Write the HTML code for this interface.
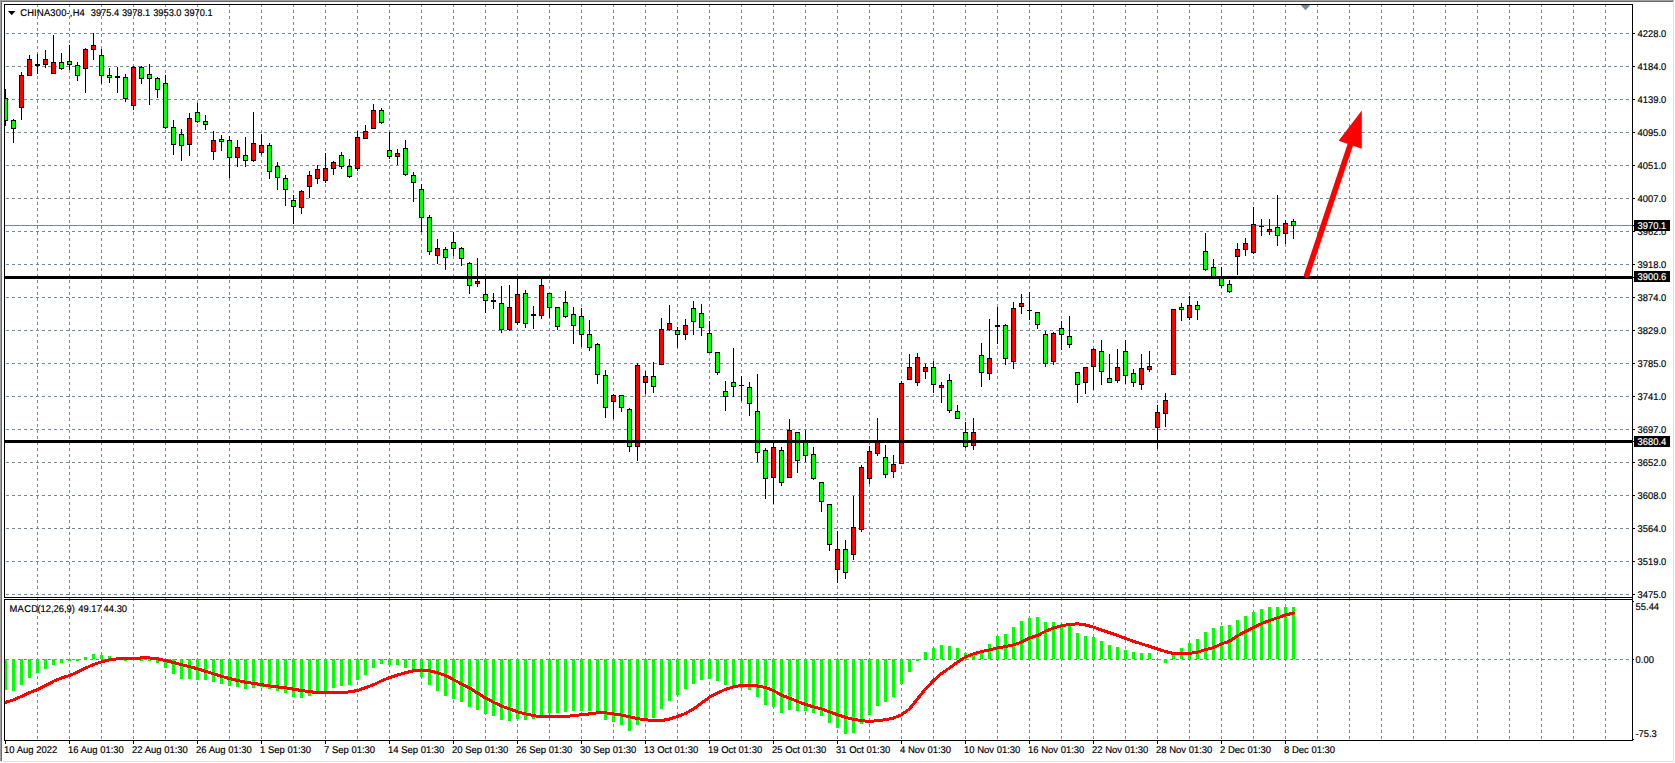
<!DOCTYPE html>
<html lang="en"><head><meta charset="utf-8"><title>CHINA300-,H4</title>
<style>html,body{margin:0;padding:0;background:#fff;overflow:hidden}svg{display:block}text{text-rendering:geometricPrecision;font-family:"Liberation Sans",Arial,sans-serif;font-size:9.8px;fill:#000;stroke:#000;stroke-width:0.18px}</style></head><body>
<svg width="1675" height="763" viewBox="0 0 1675 763">
<rect width="1675" height="763" fill="#fff"/>
<g shape-rendering="crispEdges">
<rect x="0" y="0" width="1674" height="1" fill="#a0a0a0"/>
<rect x="0" y="0" width="1" height="761" fill="#a0a0a0"/>
<rect x="1" y="1" width="1672" height="1" fill="#696969"/>
<rect x="1" y="1" width="1" height="760" fill="#696969"/>
<rect x="1673" y="1" width="1" height="761" fill="#e3e3e3"/>
<rect x="0" y="761" width="1674" height="1" fill="#e3e3e3"/>
<defs><clipPath id="cm"><rect x="5" y="5" width="1627" height="592"/></clipPath><clipPath id="cs"><rect x="5" y="600" width="1627" height="140"/></clipPath></defs>
<g clip-path="url(#cm)" stroke="#778899" stroke-width="1" stroke-dasharray="3 3" fill="none">
<line x1="37.5" y1="4" x2="37.5" y2="598"/>
<line x1="69.5" y1="4" x2="69.5" y2="598"/>
<line x1="101.5" y1="4" x2="101.5" y2="598"/>
<line x1="133.5" y1="4" x2="133.5" y2="598"/>
<line x1="165.5" y1="4" x2="165.5" y2="598"/>
<line x1="197.5" y1="4" x2="197.5" y2="598"/>
<line x1="229.5" y1="4" x2="229.5" y2="598"/>
<line x1="261.5" y1="4" x2="261.5" y2="598"/>
<line x1="293.5" y1="4" x2="293.5" y2="598"/>
<line x1="325.5" y1="4" x2="325.5" y2="598"/>
<line x1="357.5" y1="4" x2="357.5" y2="598"/>
<line x1="389.5" y1="4" x2="389.5" y2="598"/>
<line x1="421.5" y1="4" x2="421.5" y2="598"/>
<line x1="453.5" y1="4" x2="453.5" y2="598"/>
<line x1="485.5" y1="4" x2="485.5" y2="598"/>
<line x1="517.5" y1="4" x2="517.5" y2="598"/>
<line x1="549.5" y1="4" x2="549.5" y2="598"/>
<line x1="581.5" y1="4" x2="581.5" y2="598"/>
<line x1="613.5" y1="4" x2="613.5" y2="598"/>
<line x1="645.5" y1="4" x2="645.5" y2="598"/>
<line x1="677.5" y1="4" x2="677.5" y2="598"/>
<line x1="709.5" y1="4" x2="709.5" y2="598"/>
<line x1="741.5" y1="4" x2="741.5" y2="598"/>
<line x1="773.5" y1="4" x2="773.5" y2="598"/>
<line x1="805.5" y1="4" x2="805.5" y2="598"/>
<line x1="837.5" y1="4" x2="837.5" y2="598"/>
<line x1="869.5" y1="4" x2="869.5" y2="598"/>
<line x1="901.5" y1="4" x2="901.5" y2="598"/>
<line x1="933.5" y1="4" x2="933.5" y2="598"/>
<line x1="965.5" y1="4" x2="965.5" y2="598"/>
<line x1="997.5" y1="4" x2="997.5" y2="598"/>
<line x1="1029.5" y1="4" x2="1029.5" y2="598"/>
<line x1="1061.5" y1="4" x2="1061.5" y2="598"/>
<line x1="1093.5" y1="4" x2="1093.5" y2="598"/>
<line x1="1125.5" y1="4" x2="1125.5" y2="598"/>
<line x1="1157.5" y1="4" x2="1157.5" y2="598"/>
<line x1="1189.5" y1="4" x2="1189.5" y2="598"/>
<line x1="1221.5" y1="4" x2="1221.5" y2="598"/>
<line x1="1253.5" y1="4" x2="1253.5" y2="598"/>
<line x1="1285.5" y1="4" x2="1285.5" y2="598"/>
<line x1="1317.5" y1="4" x2="1317.5" y2="598"/>
<line x1="1349.5" y1="4" x2="1349.5" y2="598"/>
<line x1="1381.5" y1="4" x2="1381.5" y2="598"/>
<line x1="1413.5" y1="4" x2="1413.5" y2="598"/>
<line x1="1445.5" y1="4" x2="1445.5" y2="598"/>
<line x1="1477.5" y1="4" x2="1477.5" y2="598"/>
<line x1="1509.5" y1="4" x2="1509.5" y2="598"/>
<line x1="1541.5" y1="4" x2="1541.5" y2="598"/>
<line x1="1573.5" y1="4" x2="1573.5" y2="598"/>
<line x1="1605.5" y1="4" x2="1605.5" y2="598"/>
<line x1="0" y1="33.5" x2="1632" y2="33.5"/>
<line x1="0" y1="66.5" x2="1632" y2="66.5"/>
<line x1="0" y1="99.5" x2="1632" y2="99.5"/>
<line x1="0" y1="132.5" x2="1632" y2="132.5"/>
<line x1="0" y1="165.5" x2="1632" y2="165.5"/>
<line x1="0" y1="198.5" x2="1632" y2="198.5"/>
<line x1="0" y1="231.5" x2="1632" y2="231.5"/>
<line x1="0" y1="264.5" x2="1632" y2="264.5"/>
<line x1="0" y1="297.5" x2="1632" y2="297.5"/>
<line x1="0" y1="330.5" x2="1632" y2="330.5"/>
<line x1="0" y1="363.5" x2="1632" y2="363.5"/>
<line x1="0" y1="396.5" x2="1632" y2="396.5"/>
<line x1="0" y1="429.5" x2="1632" y2="429.5"/>
<line x1="0" y1="462.5" x2="1632" y2="462.5"/>
<line x1="0" y1="495.5" x2="1632" y2="495.5"/>
<line x1="0" y1="528.5" x2="1632" y2="528.5"/>
<line x1="0" y1="561.5" x2="1632" y2="561.5"/>
<line x1="0" y1="594.5" x2="1632" y2="594.5"/>
</g>
<g clip-path="url(#cm)">
<rect x="5" y="225" width="1627" height="1" fill="#778899"/>
<polygon points="1300.7,5 1310.3,5 1305.5,10.3" fill="#778899" shape-rendering="geometricPrecision"/>
<rect x="5" y="89" width="1" height="37" fill="#000"/>
<rect x="3" y="98" width="5" height="23" fill="#000"/>
<rect x="4" y="99" width="3" height="21" fill="#00ff00"/>
<rect x="13" y="119" width="1" height="24" fill="#000"/>
<rect x="11" y="120" width="5" height="9" fill="#000"/>
<rect x="12" y="121" width="3" height="7" fill="#00ff00"/>
<rect x="21" y="72" width="1" height="48" fill="#000"/>
<rect x="19" y="75" width="5" height="33" fill="#000"/>
<rect x="20" y="76" width="3" height="31" fill="#ff0000"/>
<rect x="29" y="55" width="1" height="21" fill="#000"/>
<rect x="27" y="59" width="5" height="17" fill="#000"/>
<rect x="28" y="60" width="3" height="15" fill="#ff0000"/>
<rect x="37" y="54" width="1" height="20" fill="#000"/>
<rect x="35" y="64" width="5" height="2" fill="#000"/>
<rect x="45" y="50" width="1" height="18" fill="#000"/>
<rect x="43" y="59" width="5" height="6" fill="#000"/>
<rect x="44" y="60" width="3" height="4" fill="#ff0000"/>
<rect x="53" y="35" width="1" height="39" fill="#000"/>
<rect x="51" y="62" width="5" height="12" fill="#000"/>
<rect x="52" y="63" width="3" height="10" fill="#ff0000"/>
<rect x="61" y="53" width="1" height="17" fill="#000"/>
<rect x="59" y="62" width="5" height="7" fill="#000"/>
<rect x="60" y="63" width="3" height="5" fill="#00ff00"/>
<rect x="69" y="45" width="1" height="25" fill="#000"/>
<rect x="67" y="61" width="5" height="4" fill="#000"/>
<rect x="68" y="62" width="3" height="2" fill="#00ff00"/>
<rect x="77" y="62" width="1" height="19" fill="#000"/>
<rect x="75" y="65" width="5" height="11" fill="#000"/>
<rect x="76" y="66" width="3" height="9" fill="#00ff00"/>
<rect x="85" y="48" width="1" height="45" fill="#000"/>
<rect x="83" y="49" width="5" height="20" fill="#000"/>
<rect x="84" y="50" width="3" height="18" fill="#ff0000"/>
<rect x="93" y="33" width="1" height="27" fill="#000"/>
<rect x="91" y="45" width="5" height="5" fill="#000"/>
<rect x="92" y="46" width="3" height="3" fill="#ff0000"/>
<rect x="101" y="49" width="1" height="35" fill="#000"/>
<rect x="99" y="55" width="5" height="21" fill="#000"/>
<rect x="100" y="56" width="3" height="19" fill="#00ff00"/>
<rect x="109" y="68" width="1" height="15" fill="#000"/>
<rect x="107" y="75" width="5" height="3" fill="#000"/>
<rect x="108" y="76" width="3" height="1" fill="#00ff00"/>
<rect x="117" y="67" width="1" height="26" fill="#000"/>
<rect x="115" y="76" width="5" height="2" fill="#000"/>
<rect x="125" y="74" width="1" height="28" fill="#000"/>
<rect x="123" y="77" width="5" height="22" fill="#000"/>
<rect x="124" y="78" width="3" height="20" fill="#00ff00"/>
<rect x="133" y="66" width="1" height="44" fill="#000"/>
<rect x="131" y="67" width="5" height="39" fill="#000"/>
<rect x="132" y="68" width="3" height="37" fill="#ff0000"/>
<rect x="141" y="66" width="1" height="18" fill="#000"/>
<rect x="139" y="67" width="5" height="12" fill="#000"/>
<rect x="140" y="68" width="3" height="10" fill="#00ff00"/>
<rect x="149" y="64" width="1" height="41" fill="#000"/>
<rect x="147" y="74" width="5" height="5" fill="#000"/>
<rect x="148" y="75" width="3" height="3" fill="#00ff00"/>
<rect x="157" y="77" width="1" height="21" fill="#000"/>
<rect x="155" y="78" width="5" height="12" fill="#000"/>
<rect x="156" y="79" width="3" height="10" fill="#00ff00"/>
<rect x="165" y="75" width="1" height="54" fill="#000"/>
<rect x="163" y="83" width="5" height="45" fill="#000"/>
<rect x="164" y="84" width="3" height="43" fill="#00ff00"/>
<rect x="173" y="120" width="1" height="35" fill="#000"/>
<rect x="171" y="127" width="5" height="18" fill="#000"/>
<rect x="172" y="128" width="3" height="16" fill="#00ff00"/>
<rect x="181" y="129" width="1" height="32" fill="#000"/>
<rect x="179" y="134" width="5" height="12" fill="#000"/>
<rect x="180" y="135" width="3" height="10" fill="#00ff00"/>
<rect x="189" y="113" width="1" height="43" fill="#000"/>
<rect x="187" y="118" width="5" height="27" fill="#000"/>
<rect x="188" y="119" width="3" height="25" fill="#ff0000"/>
<rect x="197" y="103" width="1" height="20" fill="#000"/>
<rect x="195" y="112" width="5" height="10" fill="#000"/>
<rect x="196" y="113" width="3" height="8" fill="#00ff00"/>
<rect x="205" y="115" width="1" height="15" fill="#000"/>
<rect x="203" y="121" width="5" height="4" fill="#000"/>
<rect x="204" y="122" width="3" height="2" fill="#00ff00"/>
<rect x="213" y="131" width="1" height="29" fill="#000"/>
<rect x="211" y="140" width="5" height="12" fill="#000"/>
<rect x="212" y="141" width="3" height="10" fill="#ff0000"/>
<rect x="221" y="135" width="1" height="16" fill="#000"/>
<rect x="219" y="139" width="5" height="3" fill="#000"/>
<rect x="220" y="140" width="3" height="1" fill="#00ff00"/>
<rect x="229" y="136" width="1" height="42" fill="#000"/>
<rect x="227" y="140" width="5" height="18" fill="#000"/>
<rect x="228" y="141" width="3" height="16" fill="#00ff00"/>
<rect x="237" y="140" width="1" height="27" fill="#000"/>
<rect x="235" y="147" width="5" height="11" fill="#000"/>
<rect x="236" y="148" width="3" height="9" fill="#ff0000"/>
<rect x="245" y="137" width="1" height="30" fill="#000"/>
<rect x="243" y="155" width="5" height="6" fill="#000"/>
<rect x="244" y="156" width="3" height="4" fill="#00ff00"/>
<rect x="253" y="112" width="1" height="50" fill="#000"/>
<rect x="251" y="143" width="5" height="18" fill="#000"/>
<rect x="252" y="144" width="3" height="16" fill="#ff0000"/>
<rect x="261" y="134" width="1" height="21" fill="#000"/>
<rect x="259" y="145" width="5" height="8" fill="#000"/>
<rect x="260" y="146" width="3" height="6" fill="#ff0000"/>
<rect x="269" y="143" width="1" height="36" fill="#000"/>
<rect x="267" y="145" width="5" height="27" fill="#000"/>
<rect x="268" y="146" width="3" height="25" fill="#00ff00"/>
<rect x="277" y="162" width="1" height="28" fill="#000"/>
<rect x="275" y="166" width="5" height="12" fill="#000"/>
<rect x="276" y="167" width="3" height="10" fill="#00ff00"/>
<rect x="285" y="175" width="1" height="31" fill="#000"/>
<rect x="283" y="178" width="5" height="12" fill="#000"/>
<rect x="284" y="179" width="3" height="10" fill="#00ff00"/>
<rect x="293" y="195" width="1" height="29" fill="#000"/>
<rect x="291" y="200" width="5" height="7" fill="#000"/>
<rect x="292" y="201" width="3" height="5" fill="#00ff00"/>
<rect x="301" y="190" width="1" height="24" fill="#000"/>
<rect x="299" y="191" width="5" height="17" fill="#000"/>
<rect x="300" y="192" width="3" height="15" fill="#ff0000"/>
<rect x="309" y="171" width="1" height="27" fill="#000"/>
<rect x="307" y="175" width="5" height="12" fill="#000"/>
<rect x="308" y="176" width="3" height="10" fill="#ff0000"/>
<rect x="317" y="165" width="1" height="19" fill="#000"/>
<rect x="315" y="169" width="5" height="10" fill="#000"/>
<rect x="316" y="170" width="3" height="8" fill="#ff0000"/>
<rect x="325" y="153" width="1" height="30" fill="#000"/>
<rect x="323" y="168" width="5" height="13" fill="#000"/>
<rect x="324" y="169" width="3" height="11" fill="#ff0000"/>
<rect x="333" y="161" width="1" height="14" fill="#000"/>
<rect x="331" y="162" width="5" height="7" fill="#000"/>
<rect x="332" y="163" width="3" height="5" fill="#ff0000"/>
<rect x="341" y="152" width="1" height="17" fill="#000"/>
<rect x="339" y="155" width="5" height="12" fill="#000"/>
<rect x="340" y="156" width="3" height="10" fill="#00ff00"/>
<rect x="349" y="159" width="1" height="19" fill="#000"/>
<rect x="347" y="166" width="5" height="11" fill="#000"/>
<rect x="348" y="167" width="3" height="9" fill="#00ff00"/>
<rect x="357" y="131" width="1" height="40" fill="#000"/>
<rect x="355" y="137" width="5" height="32" fill="#000"/>
<rect x="356" y="138" width="3" height="30" fill="#ff0000"/>
<rect x="365" y="125" width="1" height="14" fill="#000"/>
<rect x="363" y="131" width="5" height="8" fill="#000"/>
<rect x="364" y="132" width="3" height="6" fill="#ff0000"/>
<rect x="373" y="104" width="1" height="25" fill="#000"/>
<rect x="371" y="110" width="5" height="19" fill="#000"/>
<rect x="372" y="111" width="3" height="17" fill="#ff0000"/>
<rect x="381" y="108" width="1" height="16" fill="#000"/>
<rect x="379" y="110" width="5" height="13" fill="#000"/>
<rect x="380" y="111" width="3" height="11" fill="#00ff00"/>
<rect x="389" y="132" width="1" height="27" fill="#000"/>
<rect x="387" y="150" width="5" height="7" fill="#000"/>
<rect x="388" y="151" width="3" height="5" fill="#00ff00"/>
<rect x="397" y="149" width="1" height="16" fill="#000"/>
<rect x="395" y="153" width="5" height="4" fill="#000"/>
<rect x="396" y="154" width="3" height="2" fill="#ff0000"/>
<rect x="405" y="140" width="1" height="36" fill="#000"/>
<rect x="403" y="148" width="5" height="27" fill="#000"/>
<rect x="404" y="149" width="3" height="25" fill="#00ff00"/>
<rect x="413" y="172" width="1" height="30" fill="#000"/>
<rect x="411" y="175" width="5" height="8" fill="#000"/>
<rect x="412" y="176" width="3" height="6" fill="#00ff00"/>
<rect x="421" y="184" width="1" height="48" fill="#000"/>
<rect x="419" y="189" width="5" height="29" fill="#000"/>
<rect x="420" y="190" width="3" height="27" fill="#00ff00"/>
<rect x="429" y="215" width="1" height="40" fill="#000"/>
<rect x="427" y="217" width="5" height="35" fill="#000"/>
<rect x="428" y="218" width="3" height="33" fill="#00ff00"/>
<rect x="437" y="239" width="1" height="25" fill="#000"/>
<rect x="435" y="248" width="5" height="8" fill="#000"/>
<rect x="436" y="249" width="3" height="6" fill="#ff0000"/>
<rect x="445" y="247" width="1" height="23" fill="#000"/>
<rect x="443" y="249" width="5" height="9" fill="#000"/>
<rect x="444" y="250" width="3" height="7" fill="#00ff00"/>
<rect x="453" y="232" width="1" height="24" fill="#000"/>
<rect x="451" y="242" width="5" height="7" fill="#000"/>
<rect x="452" y="243" width="3" height="5" fill="#00ff00"/>
<rect x="461" y="247" width="1" height="19" fill="#000"/>
<rect x="459" y="248" width="5" height="11" fill="#000"/>
<rect x="460" y="249" width="3" height="9" fill="#00ff00"/>
<rect x="469" y="262" width="1" height="32" fill="#000"/>
<rect x="467" y="263" width="5" height="23" fill="#000"/>
<rect x="468" y="264" width="3" height="21" fill="#00ff00"/>
<rect x="477" y="258" width="1" height="29" fill="#000"/>
<rect x="475" y="281" width="5" height="3" fill="#000"/>
<rect x="476" y="282" width="3" height="1" fill="#ff0000"/>
<rect x="485" y="276" width="1" height="37" fill="#000"/>
<rect x="483" y="294" width="5" height="7" fill="#000"/>
<rect x="484" y="295" width="3" height="5" fill="#00ff00"/>
<rect x="493" y="293" width="1" height="16" fill="#000"/>
<rect x="491" y="300" width="5" height="2" fill="#000"/>
<rect x="501" y="286" width="1" height="47" fill="#000"/>
<rect x="499" y="303" width="5" height="27" fill="#000"/>
<rect x="500" y="304" width="3" height="25" fill="#00ff00"/>
<rect x="509" y="285" width="1" height="46" fill="#000"/>
<rect x="507" y="307" width="5" height="23" fill="#000"/>
<rect x="508" y="308" width="3" height="21" fill="#ff0000"/>
<rect x="517" y="276" width="1" height="49" fill="#000"/>
<rect x="515" y="294" width="5" height="29" fill="#000"/>
<rect x="516" y="295" width="3" height="27" fill="#ff0000"/>
<rect x="525" y="290" width="1" height="38" fill="#000"/>
<rect x="523" y="293" width="5" height="31" fill="#000"/>
<rect x="524" y="294" width="3" height="29" fill="#00ff00"/>
<rect x="533" y="306" width="1" height="23" fill="#000"/>
<rect x="531" y="314" width="5" height="2" fill="#000"/>
<rect x="541" y="276" width="1" height="43" fill="#000"/>
<rect x="539" y="285" width="5" height="31" fill="#000"/>
<rect x="540" y="286" width="3" height="29" fill="#ff0000"/>
<rect x="549" y="293" width="1" height="25" fill="#000"/>
<rect x="547" y="293" width="5" height="15" fill="#000"/>
<rect x="548" y="294" width="3" height="13" fill="#00ff00"/>
<rect x="557" y="307" width="1" height="23" fill="#000"/>
<rect x="555" y="307" width="5" height="20" fill="#000"/>
<rect x="556" y="308" width="3" height="18" fill="#00ff00"/>
<rect x="565" y="291" width="1" height="27" fill="#000"/>
<rect x="563" y="302" width="5" height="15" fill="#000"/>
<rect x="564" y="303" width="3" height="13" fill="#00ff00"/>
<rect x="573" y="307" width="1" height="37" fill="#000"/>
<rect x="571" y="314" width="5" height="12" fill="#000"/>
<rect x="572" y="315" width="3" height="10" fill="#00ff00"/>
<rect x="581" y="308" width="1" height="39" fill="#000"/>
<rect x="579" y="316" width="5" height="19" fill="#000"/>
<rect x="580" y="317" width="3" height="17" fill="#00ff00"/>
<rect x="589" y="320" width="1" height="31" fill="#000"/>
<rect x="587" y="334" width="5" height="14" fill="#000"/>
<rect x="588" y="335" width="3" height="12" fill="#00ff00"/>
<rect x="597" y="343" width="1" height="41" fill="#000"/>
<rect x="595" y="344" width="5" height="31" fill="#000"/>
<rect x="596" y="345" width="3" height="29" fill="#00ff00"/>
<rect x="605" y="370" width="1" height="48" fill="#000"/>
<rect x="603" y="375" width="5" height="33" fill="#000"/>
<rect x="604" y="376" width="3" height="31" fill="#00ff00"/>
<rect x="613" y="394" width="1" height="25" fill="#000"/>
<rect x="611" y="395" width="5" height="7" fill="#000"/>
<rect x="612" y="396" width="3" height="5" fill="#ff0000"/>
<rect x="621" y="395" width="1" height="17" fill="#000"/>
<rect x="619" y="395" width="5" height="13" fill="#000"/>
<rect x="620" y="396" width="3" height="11" fill="#00ff00"/>
<rect x="629" y="408" width="1" height="44" fill="#000"/>
<rect x="627" y="409" width="5" height="38" fill="#000"/>
<rect x="628" y="410" width="3" height="36" fill="#00ff00"/>
<rect x="637" y="363" width="1" height="98" fill="#000"/>
<rect x="635" y="365" width="5" height="82" fill="#000"/>
<rect x="636" y="366" width="3" height="80" fill="#ff0000"/>
<rect x="645" y="371" width="1" height="23" fill="#000"/>
<rect x="643" y="376" width="5" height="7" fill="#000"/>
<rect x="644" y="377" width="3" height="5" fill="#ff0000"/>
<rect x="653" y="362" width="1" height="31" fill="#000"/>
<rect x="651" y="376" width="5" height="11" fill="#000"/>
<rect x="652" y="377" width="3" height="9" fill="#00ff00"/>
<rect x="661" y="318" width="1" height="47" fill="#000"/>
<rect x="659" y="329" width="5" height="36" fill="#000"/>
<rect x="660" y="330" width="3" height="34" fill="#ff0000"/>
<rect x="669" y="305" width="1" height="26" fill="#000"/>
<rect x="667" y="323" width="5" height="7" fill="#000"/>
<rect x="668" y="324" width="3" height="5" fill="#ff0000"/>
<rect x="677" y="327" width="1" height="21" fill="#000"/>
<rect x="675" y="330" width="5" height="5" fill="#000"/>
<rect x="676" y="331" width="3" height="3" fill="#00ff00"/>
<rect x="685" y="319" width="1" height="21" fill="#000"/>
<rect x="683" y="325" width="5" height="10" fill="#000"/>
<rect x="684" y="326" width="3" height="8" fill="#ff0000"/>
<rect x="693" y="301" width="1" height="34" fill="#000"/>
<rect x="691" y="308" width="5" height="14" fill="#000"/>
<rect x="692" y="309" width="3" height="12" fill="#00ff00"/>
<rect x="701" y="304" width="1" height="32" fill="#000"/>
<rect x="699" y="313" width="5" height="15" fill="#000"/>
<rect x="700" y="314" width="3" height="13" fill="#00ff00"/>
<rect x="709" y="321" width="1" height="32" fill="#000"/>
<rect x="707" y="333" width="5" height="20" fill="#000"/>
<rect x="708" y="334" width="3" height="18" fill="#00ff00"/>
<rect x="717" y="352" width="1" height="23" fill="#000"/>
<rect x="715" y="352" width="5" height="21" fill="#000"/>
<rect x="716" y="353" width="3" height="19" fill="#00ff00"/>
<rect x="725" y="381" width="1" height="30" fill="#000"/>
<rect x="723" y="391" width="5" height="6" fill="#000"/>
<rect x="724" y="392" width="3" height="4" fill="#00ff00"/>
<rect x="733" y="348" width="1" height="49" fill="#000"/>
<rect x="731" y="382" width="5" height="5" fill="#000"/>
<rect x="732" y="383" width="3" height="3" fill="#00ff00"/>
<rect x="741" y="376" width="1" height="25" fill="#000"/>
<rect x="739" y="385" width="5" height="1" fill="#000"/>
<rect x="749" y="382" width="1" height="34" fill="#000"/>
<rect x="747" y="387" width="5" height="17" fill="#000"/>
<rect x="748" y="388" width="3" height="15" fill="#00ff00"/>
<rect x="757" y="374" width="1" height="88" fill="#000"/>
<rect x="755" y="411" width="5" height="42" fill="#000"/>
<rect x="756" y="412" width="3" height="40" fill="#00ff00"/>
<rect x="765" y="448" width="1" height="51" fill="#000"/>
<rect x="763" y="450" width="5" height="29" fill="#000"/>
<rect x="764" y="451" width="3" height="27" fill="#00ff00"/>
<rect x="773" y="443" width="1" height="61" fill="#000"/>
<rect x="771" y="447" width="5" height="31" fill="#000"/>
<rect x="772" y="448" width="3" height="29" fill="#ff0000"/>
<rect x="781" y="447" width="1" height="39" fill="#000"/>
<rect x="779" y="450" width="5" height="33" fill="#000"/>
<rect x="780" y="451" width="3" height="31" fill="#00ff00"/>
<rect x="789" y="419" width="1" height="59" fill="#000"/>
<rect x="787" y="430" width="5" height="48" fill="#000"/>
<rect x="788" y="431" width="3" height="46" fill="#ff0000"/>
<rect x="797" y="432" width="1" height="41" fill="#000"/>
<rect x="795" y="432" width="5" height="29" fill="#000"/>
<rect x="796" y="433" width="3" height="27" fill="#00ff00"/>
<rect x="805" y="430" width="1" height="32" fill="#000"/>
<rect x="803" y="441" width="5" height="15" fill="#000"/>
<rect x="804" y="442" width="3" height="13" fill="#00ff00"/>
<rect x="813" y="447" width="1" height="33" fill="#000"/>
<rect x="811" y="454" width="5" height="25" fill="#000"/>
<rect x="812" y="455" width="3" height="23" fill="#00ff00"/>
<rect x="821" y="482" width="1" height="30" fill="#000"/>
<rect x="819" y="482" width="5" height="20" fill="#000"/>
<rect x="820" y="483" width="3" height="18" fill="#00ff00"/>
<rect x="829" y="504" width="1" height="47" fill="#000"/>
<rect x="827" y="504" width="5" height="41" fill="#000"/>
<rect x="828" y="505" width="3" height="39" fill="#00ff00"/>
<rect x="837" y="531" width="1" height="52" fill="#000"/>
<rect x="835" y="549" width="5" height="21" fill="#000"/>
<rect x="836" y="550" width="3" height="19" fill="#ff0000"/>
<rect x="845" y="540" width="1" height="39" fill="#000"/>
<rect x="843" y="549" width="5" height="24" fill="#000"/>
<rect x="844" y="550" width="3" height="22" fill="#00ff00"/>
<rect x="853" y="496" width="1" height="64" fill="#000"/>
<rect x="851" y="527" width="5" height="28" fill="#000"/>
<rect x="852" y="528" width="3" height="26" fill="#ff0000"/>
<rect x="861" y="465" width="1" height="67" fill="#000"/>
<rect x="859" y="467" width="5" height="63" fill="#000"/>
<rect x="860" y="468" width="3" height="61" fill="#ff0000"/>
<rect x="869" y="446" width="1" height="38" fill="#000"/>
<rect x="867" y="451" width="5" height="28" fill="#000"/>
<rect x="868" y="452" width="3" height="26" fill="#ff0000"/>
<rect x="877" y="418" width="1" height="38" fill="#000"/>
<rect x="875" y="441" width="5" height="13" fill="#000"/>
<rect x="876" y="442" width="3" height="11" fill="#ff0000"/>
<rect x="885" y="445" width="1" height="33" fill="#000"/>
<rect x="883" y="457" width="5" height="18" fill="#000"/>
<rect x="884" y="458" width="3" height="16" fill="#00ff00"/>
<rect x="893" y="455" width="1" height="23" fill="#000"/>
<rect x="891" y="464" width="5" height="8" fill="#000"/>
<rect x="892" y="465" width="3" height="6" fill="#ff0000"/>
<rect x="901" y="381" width="1" height="83" fill="#000"/>
<rect x="899" y="383" width="5" height="81" fill="#000"/>
<rect x="900" y="384" width="3" height="79" fill="#ff0000"/>
<rect x="909" y="354" width="1" height="26" fill="#000"/>
<rect x="907" y="367" width="5" height="13" fill="#000"/>
<rect x="908" y="368" width="3" height="11" fill="#ff0000"/>
<rect x="917" y="353" width="1" height="33" fill="#000"/>
<rect x="915" y="357" width="5" height="26" fill="#000"/>
<rect x="916" y="358" width="3" height="24" fill="#ff0000"/>
<rect x="925" y="364" width="1" height="15" fill="#000"/>
<rect x="923" y="367" width="5" height="5" fill="#000"/>
<rect x="924" y="368" width="3" height="3" fill="#ff0000"/>
<rect x="933" y="361" width="1" height="32" fill="#000"/>
<rect x="931" y="367" width="5" height="18" fill="#000"/>
<rect x="932" y="368" width="3" height="16" fill="#00ff00"/>
<rect x="941" y="382" width="1" height="21" fill="#000"/>
<rect x="939" y="385" width="5" height="3" fill="#000"/>
<rect x="940" y="386" width="3" height="1" fill="#ff0000"/>
<rect x="949" y="374" width="1" height="39" fill="#000"/>
<rect x="947" y="380" width="5" height="31" fill="#000"/>
<rect x="948" y="381" width="3" height="29" fill="#00ff00"/>
<rect x="957" y="405" width="1" height="14" fill="#000"/>
<rect x="955" y="411" width="5" height="8" fill="#000"/>
<rect x="956" y="412" width="3" height="6" fill="#00ff00"/>
<rect x="965" y="422" width="1" height="26" fill="#000"/>
<rect x="963" y="432" width="5" height="15" fill="#000"/>
<rect x="964" y="433" width="3" height="13" fill="#00ff00"/>
<rect x="973" y="418" width="1" height="32" fill="#000"/>
<rect x="971" y="432" width="5" height="14" fill="#000"/>
<rect x="972" y="433" width="3" height="12" fill="#ff0000"/>
<rect x="981" y="343" width="1" height="44" fill="#000"/>
<rect x="979" y="355" width="5" height="18" fill="#000"/>
<rect x="980" y="356" width="3" height="16" fill="#00ff00"/>
<rect x="989" y="319" width="1" height="61" fill="#000"/>
<rect x="987" y="358" width="5" height="16" fill="#000"/>
<rect x="988" y="359" width="3" height="14" fill="#ff0000"/>
<rect x="997" y="307" width="1" height="37" fill="#000"/>
<rect x="995" y="325" width="5" height="2" fill="#000"/>
<rect x="1005" y="324" width="1" height="41" fill="#000"/>
<rect x="1003" y="325" width="5" height="34" fill="#000"/>
<rect x="1004" y="326" width="3" height="32" fill="#00ff00"/>
<rect x="1013" y="302" width="1" height="67" fill="#000"/>
<rect x="1011" y="308" width="5" height="54" fill="#000"/>
<rect x="1012" y="309" width="3" height="52" fill="#ff0000"/>
<rect x="1021" y="294" width="1" height="20" fill="#000"/>
<rect x="1019" y="303" width="5" height="4" fill="#000"/>
<rect x="1020" y="304" width="3" height="2" fill="#ff0000"/>
<rect x="1029" y="292" width="1" height="28" fill="#000"/>
<rect x="1027" y="310" width="5" height="1" fill="#000"/>
<rect x="1037" y="312" width="1" height="17" fill="#000"/>
<rect x="1035" y="312" width="5" height="13" fill="#000"/>
<rect x="1036" y="313" width="3" height="11" fill="#00ff00"/>
<rect x="1045" y="331" width="1" height="36" fill="#000"/>
<rect x="1043" y="334" width="5" height="30" fill="#000"/>
<rect x="1044" y="335" width="3" height="28" fill="#00ff00"/>
<rect x="1053" y="332" width="1" height="33" fill="#000"/>
<rect x="1051" y="333" width="5" height="29" fill="#000"/>
<rect x="1052" y="334" width="3" height="27" fill="#ff0000"/>
<rect x="1061" y="321" width="1" height="29" fill="#000"/>
<rect x="1059" y="328" width="5" height="7" fill="#000"/>
<rect x="1060" y="329" width="3" height="5" fill="#00ff00"/>
<rect x="1069" y="316" width="1" height="32" fill="#000"/>
<rect x="1067" y="336" width="5" height="9" fill="#000"/>
<rect x="1068" y="337" width="3" height="7" fill="#00ff00"/>
<rect x="1077" y="372" width="1" height="31" fill="#000"/>
<rect x="1075" y="372" width="5" height="13" fill="#000"/>
<rect x="1076" y="373" width="3" height="11" fill="#00ff00"/>
<rect x="1085" y="367" width="1" height="27" fill="#000"/>
<rect x="1083" y="367" width="5" height="16" fill="#000"/>
<rect x="1084" y="368" width="3" height="14" fill="#ff0000"/>
<rect x="1093" y="348" width="1" height="42" fill="#000"/>
<rect x="1091" y="349" width="5" height="18" fill="#000"/>
<rect x="1092" y="350" width="3" height="16" fill="#ff0000"/>
<rect x="1101" y="340" width="1" height="45" fill="#000"/>
<rect x="1099" y="351" width="5" height="21" fill="#000"/>
<rect x="1100" y="352" width="3" height="19" fill="#00ff00"/>
<rect x="1109" y="354" width="1" height="29" fill="#000"/>
<rect x="1107" y="378" width="5" height="5" fill="#000"/>
<rect x="1108" y="379" width="3" height="3" fill="#00ff00"/>
<rect x="1117" y="349" width="1" height="34" fill="#000"/>
<rect x="1115" y="367" width="5" height="14" fill="#000"/>
<rect x="1116" y="368" width="3" height="12" fill="#ff0000"/>
<rect x="1125" y="340" width="1" height="44" fill="#000"/>
<rect x="1123" y="351" width="5" height="25" fill="#000"/>
<rect x="1124" y="352" width="3" height="23" fill="#00ff00"/>
<rect x="1133" y="369" width="1" height="18" fill="#000"/>
<rect x="1131" y="373" width="5" height="10" fill="#000"/>
<rect x="1132" y="374" width="3" height="8" fill="#00ff00"/>
<rect x="1141" y="354" width="1" height="36" fill="#000"/>
<rect x="1139" y="368" width="5" height="17" fill="#000"/>
<rect x="1140" y="369" width="3" height="15" fill="#ff0000"/>
<rect x="1149" y="351" width="1" height="21" fill="#000"/>
<rect x="1147" y="366" width="5" height="4" fill="#000"/>
<rect x="1148" y="367" width="3" height="2" fill="#ff0000"/>
<rect x="1157" y="405" width="1" height="44" fill="#000"/>
<rect x="1155" y="412" width="5" height="16" fill="#000"/>
<rect x="1156" y="413" width="3" height="14" fill="#ff0000"/>
<rect x="1165" y="393" width="1" height="34" fill="#000"/>
<rect x="1163" y="400" width="5" height="14" fill="#000"/>
<rect x="1164" y="401" width="3" height="12" fill="#ff0000"/>
<rect x="1173" y="309" width="1" height="66" fill="#000"/>
<rect x="1171" y="309" width="5" height="66" fill="#000"/>
<rect x="1172" y="310" width="3" height="64" fill="#ff0000"/>
<rect x="1181" y="303" width="1" height="18" fill="#000"/>
<rect x="1179" y="307" width="5" height="3" fill="#000"/>
<rect x="1180" y="308" width="3" height="1" fill="#00ff00"/>
<rect x="1189" y="296" width="1" height="24" fill="#000"/>
<rect x="1187" y="305" width="5" height="13" fill="#000"/>
<rect x="1188" y="306" width="3" height="11" fill="#ff0000"/>
<rect x="1197" y="301" width="1" height="19" fill="#000"/>
<rect x="1195" y="305" width="5" height="5" fill="#000"/>
<rect x="1196" y="306" width="3" height="3" fill="#00ff00"/>
<rect x="1205" y="233" width="1" height="38" fill="#000"/>
<rect x="1203" y="251" width="5" height="19" fill="#000"/>
<rect x="1204" y="252" width="3" height="17" fill="#00ff00"/>
<rect x="1213" y="259" width="1" height="19" fill="#000"/>
<rect x="1211" y="267" width="5" height="11" fill="#000"/>
<rect x="1212" y="268" width="3" height="9" fill="#00ff00"/>
<rect x="1221" y="267" width="1" height="21" fill="#000"/>
<rect x="1219" y="277" width="5" height="9" fill="#000"/>
<rect x="1220" y="278" width="3" height="7" fill="#00ff00"/>
<rect x="1229" y="280" width="1" height="13" fill="#000"/>
<rect x="1227" y="284" width="5" height="8" fill="#000"/>
<rect x="1228" y="285" width="3" height="6" fill="#00ff00"/>
<rect x="1237" y="243" width="1" height="32" fill="#000"/>
<rect x="1235" y="249" width="5" height="8" fill="#000"/>
<rect x="1236" y="250" width="3" height="6" fill="#ff0000"/>
<rect x="1245" y="238" width="1" height="18" fill="#000"/>
<rect x="1243" y="243" width="5" height="7" fill="#000"/>
<rect x="1244" y="244" width="3" height="5" fill="#ff0000"/>
<rect x="1253" y="207" width="1" height="47" fill="#000"/>
<rect x="1251" y="224" width="5" height="29" fill="#000"/>
<rect x="1252" y="225" width="3" height="27" fill="#ff0000"/>
<rect x="1261" y="219" width="1" height="17" fill="#000"/>
<rect x="1259" y="226" width="5" height="1" fill="#000"/>
<rect x="1269" y="219" width="1" height="16" fill="#000"/>
<rect x="1267" y="229" width="5" height="3" fill="#000"/>
<rect x="1268" y="230" width="3" height="1" fill="#ff0000"/>
<rect x="1277" y="195" width="1" height="51" fill="#000"/>
<rect x="1275" y="227" width="5" height="9" fill="#000"/>
<rect x="1276" y="228" width="3" height="7" fill="#00ff00"/>
<rect x="1285" y="220" width="1" height="24" fill="#000"/>
<rect x="1283" y="223" width="5" height="11" fill="#000"/>
<rect x="1284" y="224" width="3" height="9" fill="#ff0000"/>
<rect x="1293" y="219" width="1" height="20" fill="#000"/>
<rect x="1291" y="221" width="5" height="5" fill="#000"/>
<rect x="1292" y="222" width="3" height="3" fill="#00ff00"/>
<rect x="5" y="276" width="1627" height="3" fill="#000"/>
<rect x="5" y="440" width="1627" height="3" fill="#000"/>
</g>
</g>
<g fill="#ff0000" stroke="none">
<line x1="1306.8" y1="275" x2="1350.2" y2="145" stroke="#ff0000" stroke-width="5.6" stroke-linecap="round"/>
<polygon points="1361.8,110.6 1338.6,140.8 1361.8,148.8"/>
</g>
<g shape-rendering="crispEdges">
<g clip-path="url(#cs)" stroke="#778899" stroke-width="1" stroke-dasharray="3 3" fill="none">
<line x1="37.5" y1="598" x2="37.5" y2="742"/>
<line x1="69.5" y1="598" x2="69.5" y2="742"/>
<line x1="101.5" y1="598" x2="101.5" y2="742"/>
<line x1="133.5" y1="598" x2="133.5" y2="742"/>
<line x1="165.5" y1="598" x2="165.5" y2="742"/>
<line x1="197.5" y1="598" x2="197.5" y2="742"/>
<line x1="229.5" y1="598" x2="229.5" y2="742"/>
<line x1="261.5" y1="598" x2="261.5" y2="742"/>
<line x1="293.5" y1="598" x2="293.5" y2="742"/>
<line x1="325.5" y1="598" x2="325.5" y2="742"/>
<line x1="357.5" y1="598" x2="357.5" y2="742"/>
<line x1="389.5" y1="598" x2="389.5" y2="742"/>
<line x1="421.5" y1="598" x2="421.5" y2="742"/>
<line x1="453.5" y1="598" x2="453.5" y2="742"/>
<line x1="485.5" y1="598" x2="485.5" y2="742"/>
<line x1="517.5" y1="598" x2="517.5" y2="742"/>
<line x1="549.5" y1="598" x2="549.5" y2="742"/>
<line x1="581.5" y1="598" x2="581.5" y2="742"/>
<line x1="613.5" y1="598" x2="613.5" y2="742"/>
<line x1="645.5" y1="598" x2="645.5" y2="742"/>
<line x1="677.5" y1="598" x2="677.5" y2="742"/>
<line x1="709.5" y1="598" x2="709.5" y2="742"/>
<line x1="741.5" y1="598" x2="741.5" y2="742"/>
<line x1="773.5" y1="598" x2="773.5" y2="742"/>
<line x1="805.5" y1="598" x2="805.5" y2="742"/>
<line x1="837.5" y1="598" x2="837.5" y2="742"/>
<line x1="869.5" y1="598" x2="869.5" y2="742"/>
<line x1="901.5" y1="598" x2="901.5" y2="742"/>
<line x1="933.5" y1="598" x2="933.5" y2="742"/>
<line x1="965.5" y1="598" x2="965.5" y2="742"/>
<line x1="997.5" y1="598" x2="997.5" y2="742"/>
<line x1="1029.5" y1="598" x2="1029.5" y2="742"/>
<line x1="1061.5" y1="598" x2="1061.5" y2="742"/>
<line x1="1093.5" y1="598" x2="1093.5" y2="742"/>
<line x1="1125.5" y1="598" x2="1125.5" y2="742"/>
<line x1="1157.5" y1="598" x2="1157.5" y2="742"/>
<line x1="1189.5" y1="598" x2="1189.5" y2="742"/>
<line x1="1221.5" y1="598" x2="1221.5" y2="742"/>
<line x1="1253.5" y1="598" x2="1253.5" y2="742"/>
<line x1="1285.5" y1="598" x2="1285.5" y2="742"/>
<line x1="1317.5" y1="598" x2="1317.5" y2="742"/>
<line x1="1349.5" y1="598" x2="1349.5" y2="742"/>
<line x1="1381.5" y1="598" x2="1381.5" y2="742"/>
<line x1="1413.5" y1="598" x2="1413.5" y2="742"/>
<line x1="1445.5" y1="598" x2="1445.5" y2="742"/>
<line x1="1477.5" y1="598" x2="1477.5" y2="742"/>
<line x1="1509.5" y1="598" x2="1509.5" y2="742"/>
<line x1="1541.5" y1="598" x2="1541.5" y2="742"/>
<line x1="1573.5" y1="598" x2="1573.5" y2="742"/>
<line x1="1605.5" y1="598" x2="1605.5" y2="742"/>
<line x1="0" y1="659.5" x2="1632" y2="659.5"/>
</g>
<g clip-path="url(#cs)">
<rect x="4" y="659" width="3" height="31" fill="#00ff00"/>
<rect x="12" y="659" width="3" height="32" fill="#00ff00"/>
<rect x="20" y="659" width="3" height="26" fill="#00ff00"/>
<rect x="28" y="659" width="3" height="19" fill="#00ff00"/>
<rect x="36" y="659" width="3" height="14" fill="#00ff00"/>
<rect x="44" y="659" width="3" height="10" fill="#00ff00"/>
<rect x="52" y="659" width="3" height="6" fill="#00ff00"/>
<rect x="60" y="659" width="3" height="4" fill="#00ff00"/>
<rect x="68" y="659" width="3" height="2" fill="#00ff00"/>
<rect x="76" y="659" width="3" height="2" fill="#00ff00"/>
<rect x="84" y="657" width="3" height="2" fill="#00ff00"/>
<rect x="92" y="654" width="3" height="5" fill="#00ff00"/>
<rect x="100" y="655" width="3" height="4" fill="#00ff00"/>
<rect x="108" y="656" width="3" height="3" fill="#00ff00"/>
<rect x="116" y="658" width="3" height="1" fill="#00ff00"/>
<rect x="124" y="659" width="3" height="2" fill="#00ff00"/>
<rect x="140" y="659" width="3" height="2" fill="#00ff00"/>
<rect x="148" y="659" width="3" height="2" fill="#00ff00"/>
<rect x="156" y="659" width="3" height="4" fill="#00ff00"/>
<rect x="164" y="659" width="3" height="9" fill="#00ff00"/>
<rect x="172" y="659" width="3" height="15" fill="#00ff00"/>
<rect x="180" y="659" width="3" height="20" fill="#00ff00"/>
<rect x="188" y="659" width="3" height="20" fill="#00ff00"/>
<rect x="196" y="659" width="3" height="21" fill="#00ff00"/>
<rect x="204" y="659" width="3" height="21" fill="#00ff00"/>
<rect x="212" y="659" width="3" height="23" fill="#00ff00"/>
<rect x="220" y="659" width="3" height="25" fill="#00ff00"/>
<rect x="228" y="659" width="3" height="27" fill="#00ff00"/>
<rect x="236" y="659" width="3" height="28" fill="#00ff00"/>
<rect x="244" y="659" width="3" height="30" fill="#00ff00"/>
<rect x="252" y="659" width="3" height="29" fill="#00ff00"/>
<rect x="260" y="659" width="3" height="28" fill="#00ff00"/>
<rect x="268" y="659" width="3" height="30" fill="#00ff00"/>
<rect x="276" y="659" width="3" height="32" fill="#00ff00"/>
<rect x="284" y="659" width="3" height="34" fill="#00ff00"/>
<rect x="292" y="659" width="3" height="38" fill="#00ff00"/>
<rect x="300" y="659" width="3" height="39" fill="#00ff00"/>
<rect x="308" y="659" width="3" height="37" fill="#00ff00"/>
<rect x="316" y="659" width="3" height="34" fill="#00ff00"/>
<rect x="324" y="659" width="3" height="34" fill="#00ff00"/>
<rect x="332" y="659" width="3" height="29" fill="#00ff00"/>
<rect x="340" y="659" width="3" height="27" fill="#00ff00"/>
<rect x="348" y="659" width="3" height="26" fill="#00ff00"/>
<rect x="356" y="659" width="3" height="21" fill="#00ff00"/>
<rect x="364" y="659" width="3" height="16" fill="#00ff00"/>
<rect x="372" y="659" width="3" height="9" fill="#00ff00"/>
<rect x="380" y="659" width="3" height="5" fill="#00ff00"/>
<rect x="388" y="659" width="3" height="6" fill="#00ff00"/>
<rect x="396" y="659" width="3" height="6" fill="#00ff00"/>
<rect x="404" y="659" width="3" height="9" fill="#00ff00"/>
<rect x="412" y="659" width="3" height="11" fill="#00ff00"/>
<rect x="420" y="659" width="3" height="18" fill="#00ff00"/>
<rect x="428" y="659" width="3" height="26" fill="#00ff00"/>
<rect x="436" y="659" width="3" height="32" fill="#00ff00"/>
<rect x="444" y="659" width="3" height="37" fill="#00ff00"/>
<rect x="452" y="659" width="3" height="40" fill="#00ff00"/>
<rect x="460" y="659" width="3" height="43" fill="#00ff00"/>
<rect x="468" y="659" width="3" height="48" fill="#00ff00"/>
<rect x="476" y="659" width="3" height="51" fill="#00ff00"/>
<rect x="484" y="659" width="3" height="55" fill="#00ff00"/>
<rect x="492" y="659" width="3" height="57" fill="#00ff00"/>
<rect x="500" y="659" width="3" height="61" fill="#00ff00"/>
<rect x="508" y="659" width="3" height="62" fill="#00ff00"/>
<rect x="516" y="659" width="3" height="60" fill="#00ff00"/>
<rect x="524" y="659" width="3" height="61" fill="#00ff00"/>
<rect x="532" y="659" width="3" height="60" fill="#00ff00"/>
<rect x="540" y="659" width="3" height="58" fill="#00ff00"/>
<rect x="548" y="659" width="3" height="54" fill="#00ff00"/>
<rect x="556" y="659" width="3" height="54" fill="#00ff00"/>
<rect x="564" y="659" width="3" height="53" fill="#00ff00"/>
<rect x="572" y="659" width="3" height="52" fill="#00ff00"/>
<rect x="580" y="659" width="3" height="52" fill="#00ff00"/>
<rect x="588" y="659" width="3" height="52" fill="#00ff00"/>
<rect x="596" y="659" width="3" height="53" fill="#00ff00"/>
<rect x="604" y="659" width="3" height="61" fill="#00ff00"/>
<rect x="612" y="659" width="3" height="63" fill="#00ff00"/>
<rect x="620" y="659" width="3" height="66" fill="#00ff00"/>
<rect x="628" y="659" width="3" height="72" fill="#00ff00"/>
<rect x="636" y="659" width="3" height="66" fill="#00ff00"/>
<rect x="644" y="659" width="3" height="60" fill="#00ff00"/>
<rect x="652" y="659" width="3" height="59" fill="#00ff00"/>
<rect x="660" y="659" width="3" height="50" fill="#00ff00"/>
<rect x="668" y="659" width="3" height="42" fill="#00ff00"/>
<rect x="676" y="659" width="3" height="36" fill="#00ff00"/>
<rect x="684" y="659" width="3" height="30" fill="#00ff00"/>
<rect x="692" y="659" width="3" height="25" fill="#00ff00"/>
<rect x="700" y="659" width="3" height="21" fill="#00ff00"/>
<rect x="708" y="659" width="3" height="20" fill="#00ff00"/>
<rect x="716" y="659" width="3" height="22" fill="#00ff00"/>
<rect x="724" y="659" width="3" height="26" fill="#00ff00"/>
<rect x="732" y="659" width="3" height="28" fill="#00ff00"/>
<rect x="740" y="659" width="3" height="29" fill="#00ff00"/>
<rect x="748" y="659" width="3" height="31" fill="#00ff00"/>
<rect x="756" y="659" width="3" height="38" fill="#00ff00"/>
<rect x="764" y="659" width="3" height="46" fill="#00ff00"/>
<rect x="772" y="659" width="3" height="48" fill="#00ff00"/>
<rect x="780" y="659" width="3" height="54" fill="#00ff00"/>
<rect x="788" y="659" width="3" height="51" fill="#00ff00"/>
<rect x="796" y="659" width="3" height="52" fill="#00ff00"/>
<rect x="804" y="659" width="3" height="52" fill="#00ff00"/>
<rect x="812" y="659" width="3" height="54" fill="#00ff00"/>
<rect x="820" y="659" width="3" height="57" fill="#00ff00"/>
<rect x="828" y="659" width="3" height="64" fill="#00ff00"/>
<rect x="836" y="659" width="3" height="69" fill="#00ff00"/>
<rect x="844" y="659" width="3" height="75" fill="#00ff00"/>
<rect x="852" y="659" width="3" height="74" fill="#00ff00"/>
<rect x="860" y="659" width="3" height="65" fill="#00ff00"/>
<rect x="868" y="659" width="3" height="56" fill="#00ff00"/>
<rect x="876" y="659" width="3" height="47" fill="#00ff00"/>
<rect x="884" y="659" width="3" height="43" fill="#00ff00"/>
<rect x="892" y="659" width="3" height="38" fill="#00ff00"/>
<rect x="900" y="659" width="3" height="25" fill="#00ff00"/>
<rect x="908" y="659" width="3" height="13" fill="#00ff00"/>
<rect x="916" y="659" width="3" height="2" fill="#00ff00"/>
<rect x="924" y="652" width="3" height="7" fill="#00ff00"/>
<rect x="932" y="648" width="3" height="11" fill="#00ff00"/>
<rect x="940" y="645" width="3" height="14" fill="#00ff00"/>
<rect x="948" y="646" width="3" height="13" fill="#00ff00"/>
<rect x="956" y="648" width="3" height="11" fill="#00ff00"/>
<rect x="964" y="653" width="3" height="6" fill="#00ff00"/>
<rect x="972" y="654" width="3" height="5" fill="#00ff00"/>
<rect x="980" y="653" width="3" height="6" fill="#00ff00"/>
<rect x="988" y="644" width="3" height="15" fill="#00ff00"/>
<rect x="996" y="636" width="3" height="23" fill="#00ff00"/>
<rect x="1004" y="634" width="3" height="25" fill="#00ff00"/>
<rect x="1012" y="627" width="3" height="32" fill="#00ff00"/>
<rect x="1020" y="621" width="3" height="38" fill="#00ff00"/>
<rect x="1028" y="618" width="3" height="41" fill="#00ff00"/>
<rect x="1036" y="617" width="3" height="42" fill="#00ff00"/>
<rect x="1044" y="622" width="3" height="37" fill="#00ff00"/>
<rect x="1052" y="622" width="3" height="37" fill="#00ff00"/>
<rect x="1060" y="624" width="3" height="35" fill="#00ff00"/>
<rect x="1068" y="625" width="3" height="34" fill="#00ff00"/>
<rect x="1076" y="633" width="3" height="26" fill="#00ff00"/>
<rect x="1084" y="636" width="3" height="23" fill="#00ff00"/>
<rect x="1092" y="637" width="3" height="22" fill="#00ff00"/>
<rect x="1100" y="641" width="3" height="18" fill="#00ff00"/>
<rect x="1108" y="645" width="3" height="14" fill="#00ff00"/>
<rect x="1116" y="647" width="3" height="12" fill="#00ff00"/>
<rect x="1124" y="650" width="3" height="9" fill="#00ff00"/>
<rect x="1132" y="652" width="3" height="7" fill="#00ff00"/>
<rect x="1140" y="653" width="3" height="6" fill="#00ff00"/>
<rect x="1148" y="653" width="3" height="6" fill="#00ff00"/>
<rect x="1156" y="659" width="3" height="1" fill="#00ff00"/>
<rect x="1164" y="659" width="3" height="4" fill="#00ff00"/>
<rect x="1172" y="654" width="3" height="5" fill="#00ff00"/>
<rect x="1180" y="648" width="3" height="11" fill="#00ff00"/>
<rect x="1188" y="643" width="3" height="16" fill="#00ff00"/>
<rect x="1196" y="639" width="3" height="20" fill="#00ff00"/>
<rect x="1204" y="632" width="3" height="27" fill="#00ff00"/>
<rect x="1212" y="628" width="3" height="31" fill="#00ff00"/>
<rect x="1220" y="626" width="3" height="33" fill="#00ff00"/>
<rect x="1228" y="625" width="3" height="34" fill="#00ff00"/>
<rect x="1236" y="620" width="3" height="39" fill="#00ff00"/>
<rect x="1244" y="616" width="3" height="43" fill="#00ff00"/>
<rect x="1252" y="612" width="3" height="47" fill="#00ff00"/>
<rect x="1260" y="609" width="3" height="50" fill="#00ff00"/>
<rect x="1268" y="607" width="3" height="52" fill="#00ff00"/>
<rect x="1276" y="607" width="3" height="52" fill="#00ff00"/>
<rect x="1284" y="607" width="3" height="52" fill="#00ff00"/>
<rect x="1292" y="607" width="3" height="52" fill="#00ff00"/>
</g></g>
<g clip-path="url(#cs)" fill="none" stroke="#ff0000" stroke-linejoin="round" stroke-linecap="round"><polyline points="5.5,702.4 13.5,699.9 21.5,696.4 29.5,692.5 37.5,689.7 45.5,685.5 53.5,681.3 61.5,678 69.5,675.5 77.5,672.2 85.5,668 93.5,664.6 101.5,661.8 109.5,659.9 117.5,658.8 125.5,658.8 133.5,658.8 141.5,657.9 149.5,657.9 157.5,658.8 165.5,660.5 173.5,662.5 181.5,664.6 189.5,666.6 197.5,668.8 205.5,671.3 213.5,673.8 221.5,676.3 229.5,678.5 237.5,680.5 245.5,682.2 253.5,683.3 261.5,684.7 269.5,685.9 277.5,686.9 285.5,687.7 293.5,689.2 301.5,690.5 309.5,691.7 317.5,692.5 325.5,692.5 333.5,692.5 341.5,692.5 349.5,691.9 357.5,690.5 365.5,687.7 373.5,684.7 381.5,680.8 389.5,677.7 397.5,675 405.5,672.7 413.5,670.8 421.5,670 429.5,670.8 437.5,672.7 445.5,675.5 453.5,679.7 461.5,683.9 469.5,688 477.5,693 485.5,698.1 493.5,702.2 501.5,706.1 509.5,708.9 517.5,711.8 525.5,713.9 533.5,715.6 541.5,716.8 549.5,716.8 557.5,716.8 565.5,716.5 573.5,715.6 581.5,714.8 589.5,713.9 597.5,712.8 605.5,712.8 613.5,713.9 621.5,715.1 629.5,716.8 637.5,718.6 645.5,719.8 653.5,720.6 661.5,720.6 669.5,719 677.5,716.5 685.5,713.4 693.5,708.9 701.5,703.1 709.5,697.2 717.5,693 725.5,689.4 733.5,686.9 741.5,685.2 749.5,685 757.5,686 765.5,687.5 773.5,690.5 781.5,695.2 789.5,698.1 797.5,701.4 805.5,704.4 813.5,706.9 821.5,708.9 829.5,711.9 837.5,714.8 845.5,717.3 853.5,719.3 861.5,720.6 869.5,721.5 877.5,720.6 885.5,719.8 893.5,718.1 901.5,714.8 909.5,708.9 917.5,698.9 925.5,688.9 933.5,680.5 941.5,673.5 949.5,668 957.5,662.1 965.5,657.1 973.5,653.8 981.5,651.6 989.5,649.9 997.5,647.9 1005.5,646.6 1013.5,644.9 1021.5,642.1 1029.5,637.9 1037.5,635.4 1045.5,631.2 1053.5,627.9 1061.5,625.8 1069.5,624.5 1077.5,623.8 1085.5,625 1093.5,627.1 1101.5,630.1 1109.5,632.6 1117.5,635.4 1125.5,638.4 1133.5,641.3 1141.5,643.9 1149.5,646.3 1157.5,649 1165.5,651.5 1173.5,653.5 1181.5,653.5 1189.5,653.5 1197.5,652.1 1205.5,649.6 1213.5,647.6 1221.5,643.9 1229.5,641.3 1237.5,635.9 1245.5,631.4 1253.5,627.6 1261.5,623.7 1269.5,620.5 1277.5,617.9 1285.5,615 1293.5,613" stroke-width="1.8"/><polyline points="5.5,702.4 13.5,699.9 21.5,696.4 29.5,692.5 37.5,689.7 45.5,685.5 53.5,681.3 61.5,678 69.5,675.5 77.5,672.2 85.5,668 93.5,664.6 101.5,661.8 109.5,659.9 117.5,658.8 125.5,658.8 133.5,658.8 141.5,657.9 149.5,657.9 157.5,658.8 165.5,660.5 173.5,662.5 181.5,664.6 189.5,666.6 197.5,668.8 205.5,671.3 213.5,673.8 221.5,676.3 229.5,678.5 237.5,680.5 245.5,682.2 253.5,683.3 261.5,684.7 269.5,685.9 277.5,686.9 285.5,687.7 293.5,689.2 301.5,690.5 309.5,691.7 317.5,692.5 325.5,692.5 333.5,692.5 341.5,692.5 349.5,691.9 357.5,690.5 365.5,687.7 373.5,684.7 381.5,680.8 389.5,677.7 397.5,675 405.5,672.7 413.5,670.8 421.5,670 429.5,670.8 437.5,672.7 445.5,675.5 453.5,679.7 461.5,683.9 469.5,688 477.5,693 485.5,698.1 493.5,702.2 501.5,706.1 509.5,708.9 517.5,711.8 525.5,713.9 533.5,715.6 541.5,716.8 549.5,716.8 557.5,716.8 565.5,716.5 573.5,715.6 581.5,714.8 589.5,713.9 597.5,712.8 605.5,712.8 613.5,713.9 621.5,715.1 629.5,716.8 637.5,718.6 645.5,719.8 653.5,720.6 661.5,720.6 669.5,719 677.5,716.5 685.5,713.4 693.5,708.9 701.5,703.1 709.5,697.2 717.5,693 725.5,689.4 733.5,686.9 741.5,685.2 749.5,685 757.5,686 765.5,687.5 773.5,690.5 781.5,695.2 789.5,698.1 797.5,701.4 805.5,704.4 813.5,706.9 821.5,708.9 829.5,711.9 837.5,714.8 845.5,717.3 853.5,719.3 861.5,720.6 869.5,721.5 877.5,720.6 885.5,719.8 893.5,718.1 901.5,714.8 909.5,708.9 917.5,698.9 925.5,688.9 933.5,680.5 941.5,673.5 949.5,668 957.5,662.1 965.5,657.1 973.5,653.8 981.5,651.6 989.5,649.9 997.5,647.9 1005.5,646.6 1013.5,644.9 1021.5,642.1 1029.5,637.9 1037.5,635.4 1045.5,631.2 1053.5,627.9 1061.5,625.8 1069.5,624.5 1077.5,623.8 1085.5,625 1093.5,627.1 1101.5,630.1 1109.5,632.6 1117.5,635.4 1125.5,638.4 1133.5,641.3 1141.5,643.9 1149.5,646.3 1157.5,649 1165.5,651.5 1173.5,653.5 1181.5,653.5 1189.5,653.5 1197.5,652.1 1205.5,649.6 1213.5,647.6 1221.5,643.9 1229.5,641.3 1237.5,635.9 1245.5,631.4 1253.5,627.6 1261.5,623.7 1269.5,620.5 1277.5,617.9 1285.5,615 1293.5,613" stroke-width="3" shape-rendering="crispEdges"/></g>
<g shape-rendering="crispEdges">
<rect x="4" y="4" width="1629" height="1" fill="#000"/>
<rect x="4" y="4" width="1" height="737" fill="#000"/>
<rect x="1632" y="4" width="1" height="737" fill="#000"/>
<rect x="4" y="597" width="1629" height="1" fill="#000"/>
<rect x="4" y="599" width="1629" height="1" fill="#000"/>
<rect x="4" y="740" width="1629" height="1" fill="#000"/>
<rect x="4" y="598" width="1628" height="1" fill="#fff"/>
<rect x="37" y="598" width="1" height="1" fill="#778899"/>
<rect x="69" y="598" width="1" height="1" fill="#778899"/>
<rect x="101" y="598" width="1" height="1" fill="#778899"/>
<rect x="133" y="598" width="1" height="1" fill="#778899"/>
<rect x="165" y="598" width="1" height="1" fill="#778899"/>
<rect x="197" y="598" width="1" height="1" fill="#778899"/>
<rect x="229" y="598" width="1" height="1" fill="#778899"/>
<rect x="261" y="598" width="1" height="1" fill="#778899"/>
<rect x="293" y="598" width="1" height="1" fill="#778899"/>
<rect x="325" y="598" width="1" height="1" fill="#778899"/>
<rect x="357" y="598" width="1" height="1" fill="#778899"/>
<rect x="389" y="598" width="1" height="1" fill="#778899"/>
<rect x="421" y="598" width="1" height="1" fill="#778899"/>
<rect x="453" y="598" width="1" height="1" fill="#778899"/>
<rect x="485" y="598" width="1" height="1" fill="#778899"/>
<rect x="517" y="598" width="1" height="1" fill="#778899"/>
<rect x="549" y="598" width="1" height="1" fill="#778899"/>
<rect x="581" y="598" width="1" height="1" fill="#778899"/>
<rect x="613" y="598" width="1" height="1" fill="#778899"/>
<rect x="645" y="598" width="1" height="1" fill="#778899"/>
<rect x="677" y="598" width="1" height="1" fill="#778899"/>
<rect x="709" y="598" width="1" height="1" fill="#778899"/>
<rect x="741" y="598" width="1" height="1" fill="#778899"/>
<rect x="773" y="598" width="1" height="1" fill="#778899"/>
<rect x="805" y="598" width="1" height="1" fill="#778899"/>
<rect x="837" y="598" width="1" height="1" fill="#778899"/>
<rect x="869" y="598" width="1" height="1" fill="#778899"/>
<rect x="901" y="598" width="1" height="1" fill="#778899"/>
<rect x="933" y="598" width="1" height="1" fill="#778899"/>
<rect x="965" y="598" width="1" height="1" fill="#778899"/>
<rect x="997" y="598" width="1" height="1" fill="#778899"/>
<rect x="1029" y="598" width="1" height="1" fill="#778899"/>
<rect x="1061" y="598" width="1" height="1" fill="#778899"/>
<rect x="1093" y="598" width="1" height="1" fill="#778899"/>
<rect x="1125" y="598" width="1" height="1" fill="#778899"/>
<rect x="1157" y="598" width="1" height="1" fill="#778899"/>
<rect x="1189" y="598" width="1" height="1" fill="#778899"/>
<rect x="1221" y="598" width="1" height="1" fill="#778899"/>
<rect x="1253" y="598" width="1" height="1" fill="#778899"/>
<rect x="1285" y="598" width="1" height="1" fill="#778899"/>
<rect x="1317" y="598" width="1" height="1" fill="#778899"/>
<rect x="1349" y="598" width="1" height="1" fill="#778899"/>
<rect x="1381" y="598" width="1" height="1" fill="#778899"/>
<rect x="1413" y="598" width="1" height="1" fill="#778899"/>
<rect x="1445" y="598" width="1" height="1" fill="#778899"/>
<rect x="1477" y="598" width="1" height="1" fill="#778899"/>
<rect x="1509" y="598" width="1" height="1" fill="#778899"/>
<rect x="1541" y="598" width="1" height="1" fill="#778899"/>
<rect x="1573" y="598" width="1" height="1" fill="#778899"/>
<rect x="1605" y="598" width="1" height="1" fill="#778899"/>
<rect x="1633" y="33" width="2" height="1" fill="#000"/>
<rect x="1633" y="66" width="2" height="1" fill="#000"/>
<rect x="1633" y="99" width="2" height="1" fill="#000"/>
<rect x="1633" y="132" width="2" height="1" fill="#000"/>
<rect x="1633" y="165" width="2" height="1" fill="#000"/>
<rect x="1633" y="198" width="2" height="1" fill="#000"/>
<rect x="1633" y="231" width="2" height="1" fill="#000"/>
<rect x="1633" y="264" width="2" height="1" fill="#000"/>
<rect x="1633" y="297" width="2" height="1" fill="#000"/>
<rect x="1633" y="330" width="2" height="1" fill="#000"/>
<rect x="1633" y="363" width="2" height="1" fill="#000"/>
<rect x="1633" y="396" width="2" height="1" fill="#000"/>
<rect x="1633" y="429" width="2" height="1" fill="#000"/>
<rect x="1633" y="462" width="2" height="1" fill="#000"/>
<rect x="1633" y="495" width="2" height="1" fill="#000"/>
<rect x="1633" y="528" width="2" height="1" fill="#000"/>
<rect x="1633" y="561" width="2" height="1" fill="#000"/>
<rect x="1633" y="594" width="2" height="1" fill="#000"/>
<rect x="1633" y="277" width="1" height="1" fill="#000"/>
<rect x="1633" y="441" width="1" height="1" fill="#000"/>
<rect x="1633" y="225" width="1" height="1" fill="#000"/>
<rect x="1633" y="601" width="1" height="1" fill="#000"/>
<rect x="1633" y="659" width="1" height="1" fill="#000"/>
<rect x="1633" y="739" width="1" height="1" fill="#000"/>
<rect x="5" y="741" width="1" height="3" fill="#000"/>
<rect x="69" y="741" width="1" height="3" fill="#000"/>
<rect x="133" y="741" width="1" height="3" fill="#000"/>
<rect x="197" y="741" width="1" height="3" fill="#000"/>
<rect x="261" y="741" width="1" height="3" fill="#000"/>
<rect x="325" y="741" width="1" height="3" fill="#000"/>
<rect x="389" y="741" width="1" height="3" fill="#000"/>
<rect x="453" y="741" width="1" height="3" fill="#000"/>
<rect x="517" y="741" width="1" height="3" fill="#000"/>
<rect x="581" y="741" width="1" height="3" fill="#000"/>
<rect x="645" y="741" width="1" height="3" fill="#000"/>
<rect x="709" y="741" width="1" height="3" fill="#000"/>
<rect x="773" y="741" width="1" height="3" fill="#000"/>
<rect x="837" y="741" width="1" height="3" fill="#000"/>
<rect x="901" y="741" width="1" height="3" fill="#000"/>
<rect x="965" y="741" width="1" height="3" fill="#000"/>
<rect x="1029" y="741" width="1" height="3" fill="#000"/>
<rect x="1093" y="741" width="1" height="3" fill="#000"/>
<rect x="1157" y="741" width="1" height="3" fill="#000"/>
<rect x="1221" y="741" width="1" height="3" fill="#000"/>
<rect x="1285" y="741" width="1" height="3" fill="#000"/>
<polygon points="8,11 15.4,11 11.7,15.2" fill="#000" shape-rendering="geometricPrecision"/>
<rect x="1634" y="220" width="36" height="11" fill="#000"/>
<rect x="1634" y="271" width="36" height="11" fill="#000"/>
<rect x="1634" y="436" width="36" height="11" fill="#000"/>
</g>
<text transform="translate(20.2,16) scale(0.957,1)" letter-spacing="0.2">CHINA300-,H4</text>
<text transform="translate(90.8,16) scale(0.945,1)">3975.4</text>
<text transform="translate(121.9,16) scale(0.945,1)">3978.1</text>
<text transform="translate(153.2,16) scale(0.945,1)">3953.0</text>
<text transform="translate(184.3,16) scale(0.945,1)">3970.1</text>
<text transform="translate(9.5,612) scale(0.957,1)" letter-spacing="0.3">MACD</text>
<text transform="translate(37.4,612) scale(0.957,1)">(12,26,9)</text>
<text transform="translate(78.2,612) scale(0.957,1)">49.17</text>
<text transform="translate(103.6,612) scale(0.957,1)">44.30</text>
<text transform="translate(1637.6,37) scale(0.957,1)">4228.0</text>
<text transform="translate(1637.6,70) scale(0.957,1)">4184.0</text>
<text transform="translate(1637.6,103) scale(0.957,1)">4139.0</text>
<text transform="translate(1637.6,136) scale(0.957,1)">4095.0</text>
<text transform="translate(1637.6,169) scale(0.957,1)">4051.0</text>
<text transform="translate(1637.6,202) scale(0.957,1)">4007.0</text>
<text transform="translate(1637.6,235) scale(0.957,1)">3962.0</text>
<text transform="translate(1637.6,268) scale(0.957,1)">3918.0</text>
<text transform="translate(1637.6,301) scale(0.957,1)">3874.0</text>
<text transform="translate(1637.6,334) scale(0.957,1)">3829.0</text>
<text transform="translate(1637.6,367) scale(0.957,1)">3785.0</text>
<text transform="translate(1637.6,400) scale(0.957,1)">3741.0</text>
<text transform="translate(1637.6,433) scale(0.957,1)">3697.0</text>
<text transform="translate(1637.6,466) scale(0.957,1)">3652.0</text>
<text transform="translate(1637.6,499) scale(0.957,1)">3608.0</text>
<text transform="translate(1637.6,532) scale(0.957,1)">3564.0</text>
<text transform="translate(1637.6,565) scale(0.957,1)">3519.0</text>
<text transform="translate(1637.6,598) scale(0.957,1)">3475.0</text>
<rect x="1634" y="220" width="36" height="11" fill="#000" shape-rendering="crispEdges"/>
<text transform="translate(1637.6,229) scale(0.957,1)" style="fill:#fff;stroke:#fff">3970.1</text>
<rect x="1634" y="271" width="36" height="11" fill="#000" shape-rendering="crispEdges"/>
<text transform="translate(1637.6,280) scale(0.957,1)" style="fill:#fff;stroke:#fff">3900.6</text>
<rect x="1634" y="436" width="36" height="11" fill="#000" shape-rendering="crispEdges"/>
<text transform="translate(1637.6,445) scale(0.957,1)" style="fill:#fff;stroke:#fff">3680.4</text>
<text transform="translate(1635.6,610) scale(0.957,1)">55.44</text>
<text transform="translate(1635.6,663) scale(0.957,1)">0.00</text>
<text transform="translate(1635.4,737) scale(0.957,1)">-75.3</text>
<text transform="translate(4,753) scale(0.967,1)">10 Aug 2022</text>
<text transform="translate(68,753) scale(0.967,1)">16 Aug 01:30</text>
<text transform="translate(132,753) scale(0.967,1)">22 Aug 01:30</text>
<text transform="translate(196,753) scale(0.967,1)">26 Aug 01:30</text>
<text transform="translate(260,753) scale(0.967,1)">1 Sep 01:30</text>
<text transform="translate(324,753) scale(0.967,1)">7 Sep 01:30</text>
<text transform="translate(388,753) scale(0.967,1)">14 Sep 01:30</text>
<text transform="translate(452,753) scale(0.967,1)">20 Sep 01:30</text>
<text transform="translate(516,753) scale(0.967,1)">26 Sep 01:30</text>
<text transform="translate(580,753) scale(0.967,1)">30 Sep 01:30</text>
<text transform="translate(644,753) scale(0.967,1)">13 Oct 01:30</text>
<text transform="translate(708,753) scale(0.967,1)">19 Oct 01:30</text>
<text transform="translate(772,753) scale(0.967,1)">25 Oct 01:30</text>
<text transform="translate(836,753) scale(0.967,1)">31 Oct 01:30</text>
<text transform="translate(900,753) scale(0.967,1)">4 Nov 01:30</text>
<text transform="translate(964,753) scale(0.967,1)">10 Nov 01:30</text>
<text transform="translate(1028,753) scale(0.967,1)">16 Nov 01:30</text>
<text transform="translate(1092,753) scale(0.967,1)">22 Nov 01:30</text>
<text transform="translate(1156,753) scale(0.967,1)">28 Nov 01:30</text>
<text transform="translate(1220,753) scale(0.967,1)">2 Dec 01:30</text>
<text transform="translate(1284,753) scale(0.967,1)">8 Dec 01:30</text>
</svg></body></html>
